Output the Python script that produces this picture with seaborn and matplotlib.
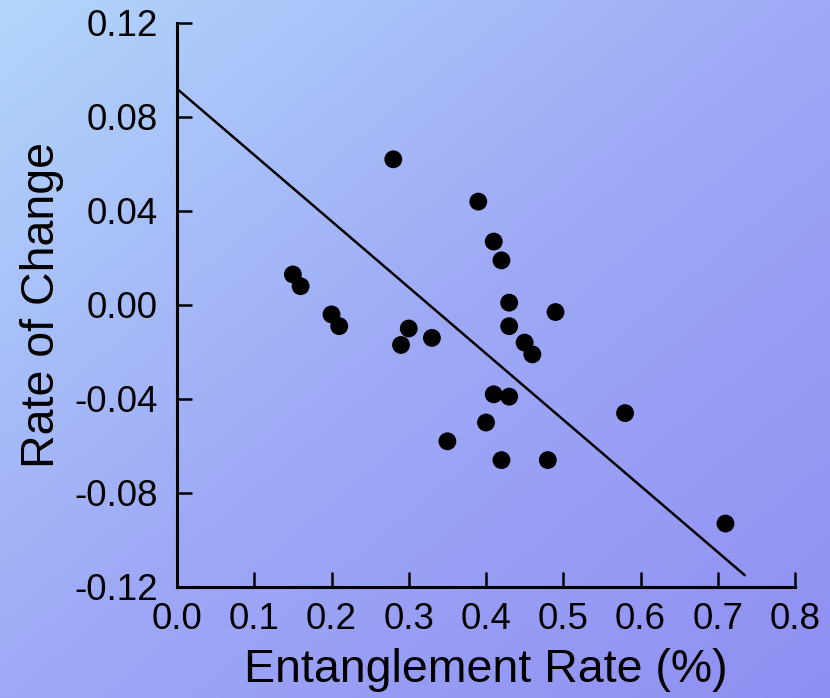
import numpy as np
import matplotlib
matplotlib.use("Agg")
import matplotlib.pyplot as plt
from matplotlib.colors import LinearSegmentedColormap
import seaborn as sns
import pandas as pd

# scatter points
entanglement = [0.28, 0.39, 0.41, 0.42, 0.15, 0.16, 0.43, 0.49, 0.20, 0.21, 0.43, 0.30,
                0.33, 0.29, 0.45, 0.46, 0.41, 0.43, 0.58, 0.40, 0.35, 0.42, 0.48, 0.71]
rate_change = [0.062, 0.044, 0.027, 0.019, 0.013, 0.008, 0.001, -0.003, -0.004, -0.009, -0.009, -0.010,
               -0.014, -0.017, -0.016, -0.021, -0.038, -0.039, -0.046, -0.050, -0.058, -0.066, -0.066, -0.093]

# fitted line end points as drawn in the reference
line_x = [0.0, 0.735]
line_y = [0.092, -0.115]

x_ticks = [0.0, 0.1, 0.2, 0.3, 0.4, 0.5, 0.6, 0.7, 0.8]
x_labels = ["0.0", "0.1", "0.2", "0.3", "0.4", "0.5", "0.6", "0.7", "0.8"]
y_ticks = [-0.12, -0.08, -0.04, 0.0, 0.04, 0.08, 0.12]
y_labels = ["-0.12", "-0.08", "-0.04", "0.00", "0.04", "0.08", "0.12"]

sns.set_style("ticks")
plt.rcParams['font.family'] = ['Liberation Sans', 'DejaVu Sans']
plt.rcParams['text.color'] = 'black'
plt.rcParams['axes.labelcolor'] = 'black'

df = pd.DataFrame({'x': entanglement, 'y': rate_change})

fig = plt.figure(figsize=(8.3, 6.98), dpi=100)

# diagonal gradient background
bg = fig.add_axes([0, 0, 1, 1], zorder=-1)
cmap = LinearSegmentedColormap.from_list('bg', ['#b2d6fb', '#9ea9f6', '#8f8ff2'])
gx, gy = np.meshgrid(np.linspace(0, 1, 300), np.linspace(0, 1, 300))
bg.imshow((gx + gy) / 2, cmap=cmap, aspect='auto', extent=[0, 1, 1, 0])
bg.axis('off')

ax = fig.add_axes([177 / 830, 111 / 698, 618 / 830, 564 / 698])
ax.set_facecolor('none')

sns.lineplot(x=line_x, y=line_y, ax=ax, color='black', linewidth=1.8)
sns.scatterplot(data=df, x='x', y='y', ax=ax, color='black', s=165, edgecolor='none', zorder=3)

ax.set_xlim(0, 0.8)
ax.set_ylim(-0.12, 0.12)
ax.set_xticks(x_ticks)
ax.set_xticklabels(x_labels)
ax.set_yticks(y_ticks)
ax.set_yticklabels(y_labels)

for side in ['top', 'right']:
    ax.spines[side].set_visible(False)
for side in ['left', 'bottom']:
    ax.spines[side].set_linewidth(2.2)
    ax.spines[side].set_color('black')

ax.tick_params(axis='both', direction='in', length=11, width=1.8, colors='black', labelsize=26.5)
ax.tick_params(axis='x', pad=11)
ax.tick_params(axis='y', pad=14)

ax.set_xlabel('Entanglement Rate (%)', fontsize=33.5, labelpad=8, color='black')
ax.set_ylabel('Rate of Change', fontsize=33.5, labelpad=7, color='black')

fig.savefig('out.png', dpi=100)
